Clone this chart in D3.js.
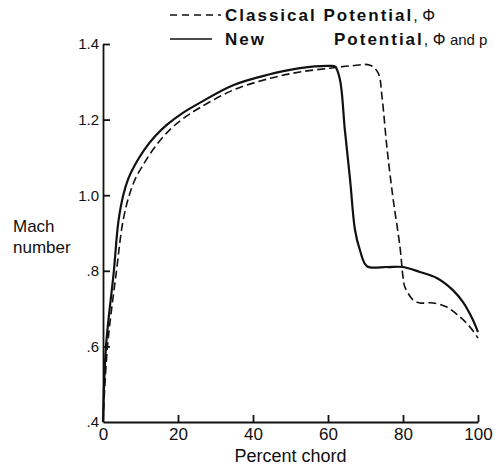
<!DOCTYPE html>
<html>
<head>
<meta charset="utf-8">
<script src="https://cdn.jsdelivr.net/npm/d3@7"></script>
<style>
  body { margin: 0; background: #fff; }
  svg { display: block; font-family: "Liberation Sans", Arial, Helvetica, sans-serif; }
</style>
</head>
<body>
<svg id="chart" width="495" height="467"></svg>
<script>
// Percent chord / Mach number pairs
const newX = [0, 0.8, 2.9, 4.1, 5.4, 6.8, 8.5, 11, 14, 17, 21, 25.9, 34.7, 43.7, 52.5, 60.5, 61.9, 63.2, 64.5, 65.9, 67.2, 68.5, 70.4, 75.7, 80, 84.5, 89, 93.3, 96, 98.4, 100];
const newM = [0.4, 0.6, 0.8, 0.93, 1.0, 1.045, 1.08, 1.12, 1.157, 1.186, 1.216, 1.245, 1.291, 1.318, 1.336, 1.342, 1.34, 1.305, 1.172, 1.04, 0.908, 0.855, 0.812, 0.81, 0.81, 0.797, 0.781, 0.749, 0.717, 0.675, 0.638];

const classicX = [0, 1.2, 3.6, 5.3, 7.0, 8.7, 10.7, 13.3, 17, 21, 25.9, 34.7, 43.7, 52.5, 60.5, 66, 71.2, 73.4, 74.4, 75.7, 77.3, 79.2, 80, 80.5, 82.7, 84.5, 88, 91.7, 95.2, 97.9, 100];
const classicM = [0.4, 0.6, 0.8, 0.93, 1.0, 1.045, 1.08, 1.12, 1.165, 1.2, 1.232, 1.278, 1.307, 1.326, 1.336, 1.342, 1.344, 1.323, 1.26, 1.128, 0.995, 0.863, 0.784, 0.757, 0.723, 0.715, 0.715, 0.704, 0.678, 0.651, 0.622];

const xTicks = [0, 20, 40, 60, 80, 100];
const yTicks = [0.4, 0.6, 0.8, 1.0, 1.2, 1.4];
const yTickLabels = ['.4', '.6', '.8', '1.0', '1.2', '1.4'];

const svg = d3.select('#chart');

const x = d3.scaleLinear().domain([0, 100]).range([103, 478]);
const y = d3.scaleLinear().domain([0.4, 1.4]).range([422, 44]);

// axes, ticks pointing inward
const xAxis = svg.append('g')
    .attr('transform', `translate(0, ${y(0.4)})`)
    .call(d3.axisBottom(x).tickValues(xTicks).tickSize(-7).tickSizeOuter(0).tickPadding(5));

const yAxis = svg.append('g')
    .attr('transform', `translate(${x(0)}, 0)`)
    .call(d3.axisLeft(y).tickValues(yTicks).tickSize(-7).tickSizeOuter(0).tickPadding(4)
        .tickFormat((d, i) => yTickLabels[i]));

[xAxis, yAxis].forEach(ax => {
  ax.select('.domain').attr('stroke', '#111').attr('stroke-width', 1.8);
  ax.selectAll('.tick line').attr('stroke', '#111').attr('stroke-width', 1.8);
  ax.selectAll('.tick text').attr('fill', '#111').attr('font-family', null);
});
xAxis.selectAll('.tick text').attr('font-size', 17).attr('dy', '0.75em');
xAxis.selectAll('.tick line').filter(d => d === 0).remove();
yAxis.selectAll('.tick text').attr('font-size', 15);
yAxis.selectAll('.tick line').filter(d => d === 0.4).remove();

// axis titles
svg.append('text')
    .attr('x', (x(0) + x(100)) / 2)
    .attr('y', 462)
    .attr('text-anchor', 'middle')
    .attr('font-size', 18)
    .attr('fill', '#111')
    .text('Percent chord');

const yTitle = svg.append('text')
    .attr('x', 13)
    .attr('y', 232)
    .attr('font-size', 17)
    .attr('fill', '#111');
yTitle.append('tspan').attr('x', 13).text('Mach');
yTitle.append('tspan').attr('x', 13).attr('dy', 21).text('number');

// curves
const line = d3.line()
    .x(d => x(d[0]))
    .y(d => y(d[1]))
    .curve(d3.curveCatmullRom.alpha(0.5));

svg.append('path')
    .datum(classicX.map((d, i) => [d, classicM[i]]))
    .attr('d', line)
    .attr('fill', 'none')
    .attr('stroke', '#111')
    .attr('stroke-width', 1.6)
    .attr('stroke-dasharray', '8,4');

svg.append('path')
    .datum(newX.map((d, i) => [d, newM[i]]))
    .attr('d', line)
    .attr('fill', 'none')
    .attr('stroke', '#111')
    .attr('stroke-width', 2.2);

// legend
const legend = svg.append('g');

legend.append('line')
    .attr('x1', 170).attr('x2', 221).attr('y1', 15).attr('y2', 15)
    .attr('stroke', '#111').attr('stroke-width', 1.6).attr('stroke-dasharray', '7,5');

legend.append('line')
    .attr('x1', 170).attr('x2', 212).attr('y1', 39).attr('y2', 39)
    .attr('stroke', '#111').attr('stroke-width', 1.6);

const row1 = legend.append('text')
    .attr('x', 225).attr('y', 21)
    .attr('fill', '#111');
row1.append('tspan')
    .attr('font-size', 17).attr('font-weight', 'bold').attr('letter-spacing', 2)
    .text('Classical Potential');
row1.append('tspan')
    .attr('font-size', 16)
    .text(', \u03A6');

legend.append('text')
    .attr('x', 225).attr('y', 45)
    .attr('fill', '#111')
    .attr('font-size', 17).attr('font-weight', 'bold').attr('letter-spacing', 2)
    .text('New');

const row2 = legend.append('text')
    .attr('x', 334).attr('y', 45)
    .attr('fill', '#111');
row2.append('tspan')
    .attr('font-size', 17).attr('font-weight', 'bold').attr('letter-spacing', 2)
    .text('Potential');
row2.append('tspan')
    .attr('font-size', 16)
    .text(', \u03A6 ');
row2.append('tspan')
    .attr('font-size', 15)
    .text('and p');
</script>
</body>
</html>
